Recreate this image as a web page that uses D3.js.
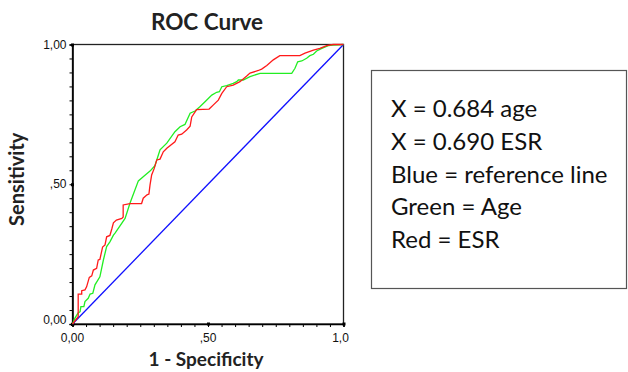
<!DOCTYPE html>
<html>
<head>
<meta charset="utf-8">
<script src="https://cdn.jsdelivr.net/npm/d3@7/dist/d3.min.js"></script>
<style>
  body { margin: 0; background: #fff; }
  svg { display: block; }
</style>
</head>
<body>
<div id="chart"></div>
<script>
// ROC curve points: [1 - specificity, sensitivity]
const esrCurve = [
  [0, 0], [0.021, 0.026], [0.021, 0.107], [0.034, 0.107], [0.034, 0.119], [0.046, 0.122],
  [0.052, 0.133], [0.062, 0.167], [0.071, 0.172], [0.077, 0.193], [0.089, 0.199], [0.095, 0.229],
  [0.101, 0.231], [0.111, 0.275], [0.120, 0.283], [0.126, 0.312], [0.138, 0.317], [0.145, 0.340],
  [0.151, 0.362], [0.162, 0.372], [0.182, 0.378], [0.187, 0.383], [0.187, 0.426], [0.212, 0.431],
  [0.255, 0.431], [0.261, 0.450], [0.275, 0.462], [0.282, 0.465], [0.286, 0.497], [0.292, 0.533],
  [0.301, 0.555], [0.311, 0.587], [0.323, 0.590], [0.335, 0.616], [0.348, 0.629], [0.378, 0.652],
  [0.390, 0.676], [0.403, 0.679], [0.421, 0.694], [0.434, 0.708], [0.440, 0.741], [0.458, 0.767],
  [0.504, 0.769], [0.520, 0.784], [0.538, 0.801], [0.551, 0.825], [0.569, 0.849], [0.593, 0.855],
  [0.618, 0.867], [0.643, 0.887], [0.655, 0.898], [0.686, 0.907], [0.698, 0.912], [0.717, 0.925],
  [0.741, 0.945], [0.765, 0.960], [0.839, 0.960], [0.858, 0.969], [0.889, 0.980], [0.913, 0.986],
  [0.938, 0.996], [0.962, 1.0], [1, 1]
];

const ageCurve = [
  [0, 0], [0.009, 0.021], [0.021, 0.040], [0.028, 0.044], [0.031, 0.062], [0.042, 0.062],
  [0.046, 0.080], [0.058, 0.092], [0.065, 0.107], [0.075, 0.110], [0.083, 0.140], [0.101, 0.169],
  [0.114, 0.229], [0.126, 0.277], [0.138, 0.294], [0.151, 0.318], [0.157, 0.325], [0.194, 0.378],
  [0.212, 0.432], [0.243, 0.512], [0.261, 0.527], [0.286, 0.547], [0.304, 0.566], [0.323, 0.623],
  [0.348, 0.647], [0.378, 0.688], [0.397, 0.706], [0.415, 0.714], [0.434, 0.754], [0.452, 0.762],
  [0.470, 0.777], [0.489, 0.795], [0.514, 0.819], [0.532, 0.829], [0.542, 0.831], [0.551, 0.849],
  [0.569, 0.853], [0.593, 0.861], [0.606, 0.867], [0.612, 0.873], [0.630, 0.873], [0.655, 0.885],
  [0.692, 0.897], [0.809, 0.897], [0.821, 0.915], [0.831, 0.938], [0.846, 0.941], [0.864, 0.951],
  [0.876, 0.960], [0.889, 0.965], [0.901, 0.977], [0.920, 0.986], [0.944, 0.996], [0.962, 0.998],
  [1, 1]
];

const referenceLine = [[0, 0], [1, 1]];

const xTickLabels = { 0: "0,00", 0.5: ",50", 1: "1,0" };
const yTickLabels = { 0: "0,00", 0.5: ",50", 1: "1,00" };

const legendLines = [
  "X = 0.684 age",
  "X = 0.690 ESR",
  "Blue = reference line",
  "Green = Age",
  "Red = ESR"
];

const width = 628, height = 372;
const plot = { left: 72.5, top: 44.5, right: 343.5, bottom: 324 };

const svg = d3.select("#chart").append("svg")
  .attr("width", width)
  .attr("height", height);

const x = d3.scaleLinear().domain([0, 1]).range([plot.left, plot.right]);
const y = d3.scaleLinear().domain([0, 1]).range([plot.bottom, plot.top]);

const minorTicks = d3.range(0, 21).map(i => i * 0.05);
const isMajor = v => Math.abs(v) < 1e-9 || Math.abs(v - 0.5) < 1e-9 || Math.abs(v - 1) < 1e-9;

// frame
svg.append("rect")
  .attr("x", plot.left)
  .attr("y", plot.top)
  .attr("width", plot.right - plot.left)
  .attr("height", plot.bottom - plot.top)
  .attr("fill", "none")
  .attr("stroke", "#222")
  .attr("stroke-width", 1.3);

// axes
const xAxis = d3.axisBottom(x).tickValues(minorTicks).tickSize(3).tickFormat("");
const yAxis = d3.axisLeft(y).tickValues(minorTicks).tickSize(3).tickFormat("");

const gx = svg.append("g").attr("transform", `translate(0,${plot.bottom})`).call(xAxis);
const gy = svg.append("g").attr("transform", `translate(${plot.left},0)`).call(yAxis);

[gx, gy].forEach(g => {
  g.select(".domain").attr("stroke", "#000").attr("stroke-width", 1.6);
  g.selectAll(".tick line").attr("stroke", "#000").attr("stroke-width", 1);
});

// major tick dots
gx.selectAll(".tick").filter(d => isMajor(d))
  .append("rect").attr("x", -1.5).attr("y", -1.5).attr("width", 3).attr("height", 3).attr("fill", "#000");
gy.selectAll(".tick").filter(d => isMajor(d))
  .append("rect").attr("x", -1.5).attr("y", -1.5).attr("width", 3).attr("height", 3).attr("fill", "#000");

// tick labels
const tickFont = "'Liberation Sans', Arial, sans-serif";
svg.append("g").selectAll("text")
  .data(Object.keys(xTickLabels).map(Number))
  .enter().append("text")
  .attr("x", d => x(d) - (d === 1 ? 3 : 0))
  .attr("y", plot.bottom + 18)
  .attr("text-anchor", "middle")
  .attr("font-family", tickFont)
  .attr("font-size", 12)
  .attr("fill", "#111")
  .text(d => xTickLabels[d]);

svg.append("g").selectAll("text")
  .data(Object.keys(yTickLabels).map(Number))
  .enter().append("text")
  .attr("x", plot.left - 6)
  .attr("y", d => y(d) + (d === 0 ? 0 : 4))
  .attr("text-anchor", "end")
  .attr("font-family", tickFont)
  .attr("font-size", 12)
  .attr("fill", "#111")
  .text(d => yTickLabels[d]);

// curves
const line = d3.line().x(d => x(d[0])).y(d => y(d[1]));

svg.append("path").datum(referenceLine)
  .attr("d", line).attr("fill", "none").attr("stroke", "#1010ff").attr("stroke-width", 1.3);
svg.append("path").datum(ageCurve)
  .attr("d", line).attr("fill", "none").attr("stroke", "#22ee22").attr("stroke-width", 1.3);
svg.append("path").datum(esrCurve)
  .attr("d", line).attr("fill", "none").attr("stroke", "#ff1a1a").attr("stroke-width", 1.3);

// titles
const titleFont = "Lato, 'Open Sans', sans-serif";
svg.append("text")
  .attr("x", 207).attr("y", 30)
  .attr("text-anchor", "middle")
  .attr("font-family", titleFont).attr("font-weight", "bold").attr("font-size", 22.5)
  .attr("fill", "#222")
  .text("ROC Curve");

svg.append("text")
  .attr("x", 206).attr("y", 366)
  .attr("text-anchor", "middle")
  .attr("font-family", titleFont).attr("font-weight", "bold").attr("font-size", 19)
  .attr("fill", "#222")
  .text("1 - Specificity");

svg.append("text")
  .attr("transform", `translate(24,${(plot.top + plot.bottom) / 2 - 5}) rotate(-90)`)
  .attr("text-anchor", "middle")
  .attr("font-family", titleFont).attr("font-weight", "bold").attr("font-size", 20)
  .attr("fill", "#222")
  .text("Sensitivity");

// legend box
svg.append("rect")
  .attr("x", 371.5).attr("y", 70.5)
  .attr("width", 255).attr("height", 218)
  .attr("fill", "#fff")
  .attr("stroke", "#555")
  .attr("stroke-width", 1.2);

svg.append("g").selectAll("text")
  .data(legendLines)
  .enter().append("text")
  .attr("x", 391)
  .attr("y", (d, i) => 117 + i * 32.8)
  .attr("font-family", titleFont)
  .attr("font-size", 24)
  .attr("fill", "#111")
  .text(d => d);
</script>
</body>
</html>
